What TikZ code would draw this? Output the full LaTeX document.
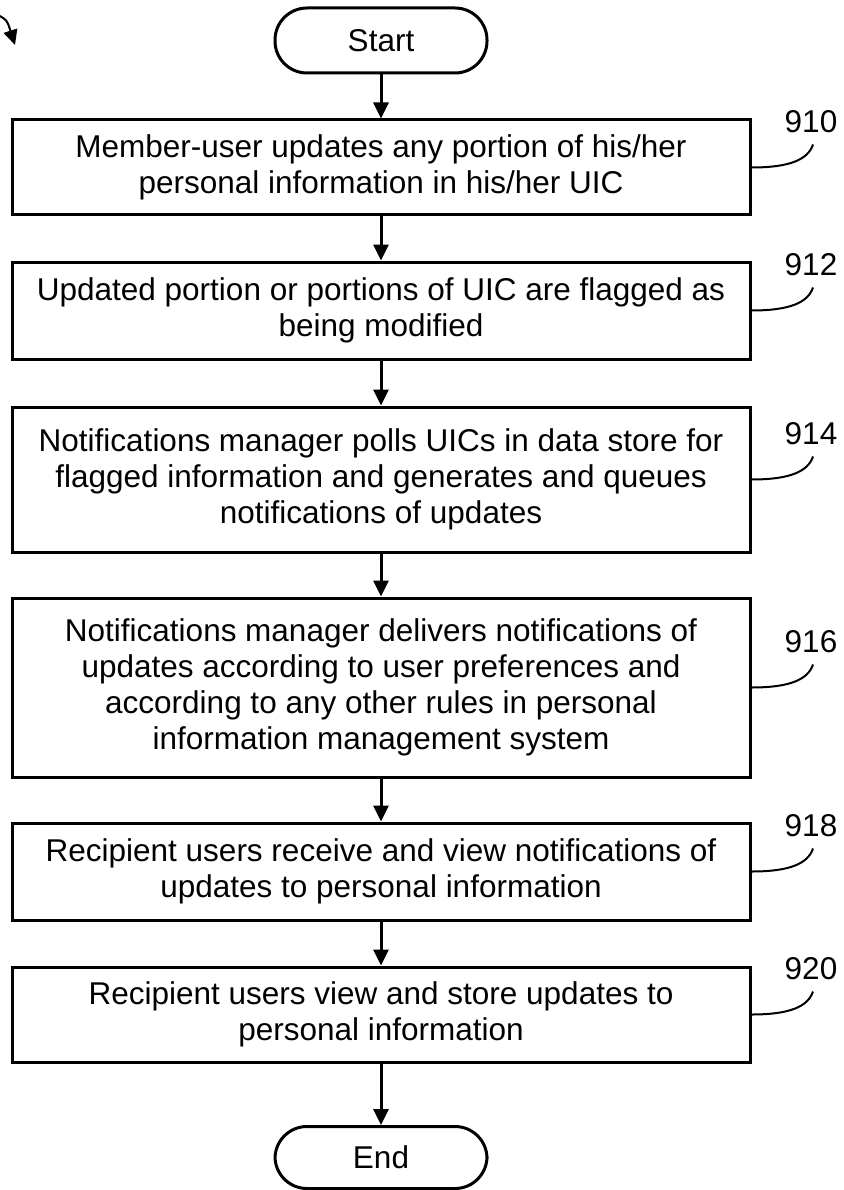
\documentclass[tikz,border=0pt]{standalone}
\usepackage{fontspec}
\setmainfont{Liberation Sans}
\usetikzlibrary{arrows.meta}

\tikzset{
  txt/.style={font=\fontsize{31.5}{36}\selectfont},
  stepbox/.style={txt, draw, line width=3pt, minimum width=738pt, align=center, inner sep=0pt},
  term/.style={txt, draw, line width=3pt, minimum width=212pt, rounded corners=32pt, inner sep=0pt},
  flow/.style={line width=3pt, -{Triangle[length=16pt,width=15pt]}},
  leader/.style={line width=2pt},
  refnum/.style={txt, inner sep=0pt}
}

\begin{document}
\begin{tikzpicture}[x=1pt,y=-1pt]
\useasboundingbox (0,0) rectangle (843,1190);

% terminals
\node[term, minimum height=65pt] (start) at (381,40.5) {Start};
\node[term, minimum height=62pt] (end) at (381,1157.5) {End};

% process steps
\node[stepbox, minimum height=95pt] (b910) at (381,167.5)
  {Member-user updates any portion of his/her\\personal information in his/her UIC};
\node[stepbox, minimum height=97pt] (b912) at (381,310.5)
  {Updated portion or portions of UIC are flagged as\\being modified};
\node[stepbox, minimum height=145pt] (b914) at (381,479.5)
  {Notifications manager polls UICs in data store for\\flagged information and generates and queues\\notifications of updates};
\node[stepbox, minimum height=179pt] (b916) at (381,687.5)
  {Notifications manager delivers notifications of\\updates according to user preferences and\\according to any other rules in personal\\information management system};
\node[stepbox, minimum height=97pt] (b918) at (381,871.5)
  {Recipient users receive and view notifications of\\updates to personal information};
\node[stepbox, minimum height=95pt] (b920) at (381,1014.5)
  {Recipient users view and store updates to\\personal information};

% flow arrows
\draw[flow] (start) -- (b910);
\draw[flow] (b910) -- (b912);
\draw[flow] (b912) -- (b914);
\draw[flow] (b914) -- (b916);
\draw[flow] (b916) -- (b918);
\draw[flow] (b918) -- (b920);
\draw[flow] (b920) -- (end);

% reference numerals with leader curves
\foreach \n/\ly in {910/167.5, 912/310.5, 914/479.5, 916/687.5, 918/871.5, 920/1014.5}{
  \node[refnum] (r\n) at (811,\ly-46) {\n};
  \coordinate (l\n) at (813,\ly-23);
  \draw[leader] (b\n.east) .. controls (790,\ly) and (808,\ly-8) .. (l\n);
}

% figure pointer arrow in the corner
\coordinate (figtail) at (-2,15);
\coordinate (figtip) at (15,45);
\draw[line width=2pt, -{Triangle[length=15pt,width=14pt]}] (figtail) .. controls (7,20) .. (figtip);
\end{tikzpicture}
\end{document}
